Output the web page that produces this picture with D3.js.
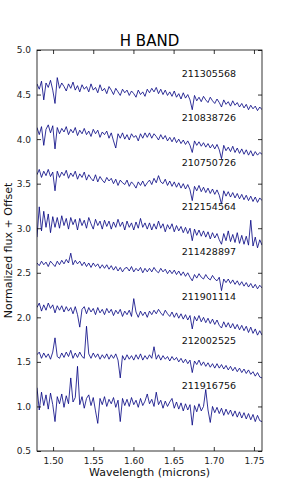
<!DOCTYPE html>
<html><head><meta charset="utf-8">
<script src="https://cdn.jsdelivr.net/npm/d3@7"></script>
<style>body{margin:0;background:#fff}svg{display:block}text{font-family:"DejaVu Sans",sans-serif}</style>
</head><body><svg id="c" width="291" height="501"></svg>
<script>
const wavelength=[1.4800,1.4828,1.4856,1.4884,1.4912,1.4940,1.4968,1.4996,1.5024,1.5052,
1.5080,1.5108,1.5136,1.5164,1.5192,1.5220,1.5248,1.5276,1.5304,1.5332,
1.5360,1.5388,1.5416,1.5444,1.5472,1.5500,1.5528,1.5556,1.5584,1.5612,
1.5640,1.5668,1.5696,1.5724,1.5752,1.5780,1.5808,1.5836,1.5864,1.5892,
1.5920,1.5948,1.5976,1.6004,1.6032,1.6060,1.6088,1.6116,1.6144,1.6172,
1.6200,1.6228,1.6256,1.6284,1.6312,1.6340,1.6368,1.6396,1.6424,1.6452,
1.6480,1.6508,1.6536,1.6564,1.6592,1.6620,1.6648,1.6676,1.6704,1.6732,
1.6760,1.6788,1.6816,1.6844,1.6872,1.6900,1.6928,1.6956,1.6984,1.7012,
1.7040,1.7068,1.7096,1.7124,1.7152,1.7180,1.7208,1.7236,1.7264,1.7292,
1.7320,1.7348,1.7376,1.7404,1.7432,1.7460,1.7488,1.7516,1.7544,1.7572,
1.7600];
const starNames=["211305568","210838726","210750726","212154564","211428897","211901114","212002525","211916756"];
const labelY=[4.7,4.2,3.7,3.2,2.7,2.2,1.7,1.2];
const labelX=1.66;
const s1=[4.62,4.56,4.65,4.44,4.63,4.58,4.66,4.55,4.40,4.69,
4.57,4.63,4.59,4.54,4.62,4.57,4.64,4.55,4.60,4.53,
4.61,4.56,4.59,4.53,4.62,4.55,4.58,4.52,4.61,4.54,
4.57,4.51,4.59,4.55,4.50,4.57,4.53,4.49,4.56,4.52,
4.55,4.49,4.54,4.51,4.47,4.55,4.50,4.53,4.48,4.56,
4.52,4.57,4.53,4.58,4.51,4.56,4.50,4.55,4.49,4.53,
4.48,4.54,4.47,4.51,4.45,4.52,4.46,4.50,4.44,4.33,
4.49,4.43,4.47,4.42,4.48,4.44,4.41,4.47,4.43,4.40,
4.45,4.41,4.36,4.44,4.39,4.42,4.37,4.43,4.38,4.41,
4.36,4.40,4.35,4.39,4.33,4.38,4.34,4.37,4.32,4.36,
4.33];
const s2=[4.13,4.05,4.14,3.93,4.11,4.16,4.07,4.15,3.89,4.13,
4.06,4.12,4.08,4.14,4.05,4.11,4.07,4.13,4.04,4.10,
4.06,4.12,4.05,4.09,4.03,4.11,4.06,4.10,4.02,4.08,
4.05,4.09,4.01,4.07,3.98,3.90,4.06,4.01,4.07,4.00,
4.05,3.99,4.06,4.02,4.04,3.98,4.06,4.01,4.07,4.02,
4.07,4.01,4.06,4.03,3.99,4.05,4.00,4.04,3.98,4.02,
3.97,4.02,3.96,4.00,3.95,3.99,3.94,3.98,3.93,3.85,
3.98,3.93,3.97,3.92,3.96,3.91,3.95,3.90,3.94,3.89,
3.94,3.88,3.78,3.93,3.87,3.91,3.86,3.92,3.85,3.90,
3.84,3.89,3.83,3.88,3.82,3.87,3.81,3.86,3.82,3.85,
3.83];
const s3=[3.60,3.66,3.57,3.64,3.59,3.66,3.58,3.63,3.42,3.64,
3.57,3.63,3.59,3.65,3.56,3.62,3.58,3.64,3.55,3.61,
3.57,3.63,3.54,3.60,3.56,3.53,3.60,3.52,3.58,3.54,
3.51,3.57,3.53,3.56,3.50,3.55,3.48,3.54,3.51,3.49,
3.54,3.47,3.52,3.49,3.45,3.52,3.48,3.53,3.47,3.51,
3.54,3.49,3.56,3.51,3.59,3.52,3.50,3.55,3.48,3.53,
3.47,3.52,3.46,3.51,3.45,3.50,3.44,3.49,3.43,3.31,
3.47,3.42,3.48,3.41,3.46,3.40,3.45,3.39,3.44,3.38,
3.43,3.37,3.27,3.42,3.36,3.41,3.35,3.40,3.34,3.39,
3.33,3.38,3.32,3.37,3.31,3.36,3.30,3.35,3.29,3.34,
3.31];
const s4=[2.90,3.24,2.97,3.19,3.01,3.16,2.95,3.13,3.01,3.12,
3.00,3.14,3.03,3.11,2.99,3.12,3.04,3.10,2.98,3.11,
3.03,3.09,3.00,3.12,3.05,2.99,3.10,3.03,3.08,2.99,
3.09,3.02,3.08,2.99,3.07,3.01,3.10,3.02,3.07,2.98,
3.08,3.01,3.06,2.98,3.07,3.00,3.11,3.01,3.06,2.99,
3.06,2.98,3.05,2.99,3.08,3.00,3.05,2.96,3.04,2.99,
3.05,2.96,3.03,2.97,3.02,2.95,3.01,2.94,3.00,2.86,
2.99,2.92,2.98,2.91,2.97,2.90,2.96,2.88,2.95,2.89,
2.94,2.87,2.82,2.94,2.86,2.97,2.85,2.93,2.84,2.95,
2.83,2.92,2.82,2.91,2.81,3.09,2.80,2.90,2.78,2.87,
2.81];
const s5=[2.61,2.58,2.63,2.59,2.62,2.57,2.63,2.60,2.57,2.63,
2.59,2.64,2.60,2.65,2.61,2.72,2.59,2.64,2.60,2.63,
2.58,2.62,2.57,2.61,2.56,2.61,2.57,2.60,2.55,2.59,
2.55,2.59,2.54,2.58,2.53,2.57,2.52,2.56,2.51,2.55,
2.56,2.52,2.57,2.51,2.55,2.52,2.56,2.50,2.55,2.51,
2.55,2.51,2.56,2.52,2.50,2.55,2.51,2.54,2.49,2.53,
2.49,2.53,2.48,2.52,2.47,2.51,2.46,2.50,2.45,2.41,
2.48,2.44,2.49,2.45,2.43,2.48,2.44,2.42,2.47,2.43,
2.41,2.45,2.30,2.43,2.39,2.43,2.38,2.42,2.37,2.41,
2.36,2.40,2.35,2.39,2.34,2.38,2.33,2.37,2.32,2.36,
2.33];
const s6=[2.11,2.16,2.07,2.14,2.08,2.16,2.10,2.14,2.05,2.13,
2.08,2.13,2.06,2.12,2.07,2.11,2.04,2.12,2.03,1.89,
2.09,2.12,2.04,2.11,2.06,2.10,2.03,2.11,2.05,2.09,
2.03,2.10,2.05,2.09,2.02,2.08,2.04,2.09,2.01,2.07,
2.03,2.08,2.01,2.21,2.06,2.00,2.07,2.02,2.06,2.00,
2.07,2.03,2.08,2.04,2.09,2.05,2.02,2.08,2.04,2.01,
2.06,2.00,2.05,1.99,2.04,1.98,2.03,1.97,2.02,1.87,
2.01,1.96,2.02,1.95,2.00,1.94,1.99,1.93,1.98,1.92,
1.97,1.91,1.88,1.95,1.89,1.94,1.88,1.93,1.87,1.92,
1.86,1.91,1.85,1.90,1.83,1.89,1.82,1.87,1.80,1.85,
1.80];
const s7=[1.58,1.61,1.54,1.60,1.55,1.59,1.53,1.61,1.77,1.56,
1.54,1.60,1.55,1.61,1.56,1.63,1.54,1.60,1.55,1.61,
1.56,1.54,1.90,1.59,1.54,1.60,1.55,1.59,1.53,1.58,
1.54,1.59,1.53,1.58,1.54,1.59,1.52,1.32,1.57,1.52,
1.58,1.53,1.57,1.52,1.58,1.53,1.59,1.52,1.57,1.53,
1.58,1.54,1.67,1.53,1.58,1.52,1.57,1.53,1.56,1.51,
1.56,1.52,1.55,1.50,1.54,1.49,1.53,1.48,1.52,1.38,
1.51,1.47,1.52,1.46,1.50,1.45,1.49,1.44,1.48,1.43,
1.48,1.43,1.47,1.42,1.46,1.41,1.45,1.40,1.44,1.39,
1.43,1.38,1.42,1.37,1.41,1.36,1.39,1.34,1.38,1.33,
1.32];
const s8=[1.21,0.96,1.16,1.01,1.13,0.97,1.15,1.02,0.83,1.11,
1.03,1.14,0.99,1.12,1.03,1.32,1.05,1.10,1.45,1.02,
1.11,0.98,1.09,1.13,1.01,1.10,0.95,0.81,1.09,1.02,
1.11,1.00,1.08,1.03,1.10,0.99,1.07,0.83,1.09,1.01,
1.08,1.00,1.10,1.02,1.07,0.99,1.09,1.01,1.06,1.14,
1.03,1.08,1.00,1.16,1.02,1.07,0.98,1.06,1.00,1.05,
1.09,0.98,1.05,0.97,1.04,0.95,1.03,0.96,1.02,0.79,
1.01,0.94,1.03,0.95,1.00,1.19,0.96,0.82,1.00,0.93,
0.99,0.92,0.98,0.90,0.97,0.91,0.96,0.89,0.95,0.88,
0.94,0.87,0.93,0.86,0.92,0.85,0.91,0.83,0.90,0.84,
0.83];
const series=[s1,s2,s3,s4,s5,s6,s7,s8];
const xTicks=[1.50,1.55,1.60,1.65,1.70,1.75];
const yTicks=[0.5,1.0,1.5,2.0,2.5,3.0,3.5,4.0,4.5,5.0];

const svg=d3.select("#c");
const L=37,R=262,T=50,B=451;
const x=d3.scaleLinear().domain([1.48,1.76]).range([L,R]);
const y=d3.scaleLinear().domain([0.5,5.0]).range([B,T]);

svg.append("defs").append("clipPath").attr("id","pc").append("rect")
 .attr("x",L).attr("y",T).attr("width",R-L).attr("height",B-T);
const g=svg.append("g").attr("clip-path","url(#pc)");
const line=d3.line().x((d,i)=>x(wavelength[i])).y(d=>y(d));
series.forEach(s=>{
 g.append("path").attr("d",line(s)).attr("fill","none").attr("stroke","#000080").attr("stroke-width",0.8).attr("stroke-linejoin","round");
});

const fmt2=d3.format(".2f"), fmt1=d3.format(".1f");
function styleAxis(sel){sel.select(".domain").remove();sel.selectAll("line").attr("stroke","#000").attr("stroke-width",0.8);
 sel.selectAll("text").attr("fill","#222").style("font-size","9px").style("font-family","DejaVu Sans");}
svg.append("g").attr("transform",`translate(0,${B})`).call(d3.axisBottom(x).tickValues(xTicks).tickFormat(fmt2).tickSizeInner(-4).tickPadding(7)).call(styleAxis);
svg.append("g").attr("transform",`translate(0,${T})`).call(d3.axisTop(x).tickValues(xTicks).tickFormat("").tickSizeInner(-4)).call(styleAxis);
svg.append("g").attr("transform",`translate(${L},0)`).call(d3.axisLeft(y).tickValues(yTicks).tickFormat(fmt1).tickSizeInner(-4).tickPadding(6)).call(styleAxis);
svg.append("g").attr("transform",`translate(${R},0)`).call(d3.axisRight(y).tickValues(yTicks).tickFormat("").tickSizeInner(-4)).call(styleAxis);
svg.append("rect").attr("x",L).attr("y",T).attr("width",R-L).attr("height",B-T).attr("fill","none").attr("stroke","#000").attr("stroke-width",0.8);

svg.selectAll("text.star").data(starNames).enter().append("text").attr("class","star")
 .attr("x",x(labelX)).attr("y",(d,i)=>y(labelY[i])).text(d=>d).attr("fill","#111").style("font-size","9.5px");
svg.append("text").attr("x",(L+R)/2).attr("y",46).attr("text-anchor","middle").style("font-size","15px").attr("fill","#000").text("H BAND");
svg.append("text").attr("x",(L+R)/2).attr("y",476).attr("text-anchor","middle").style("font-size","11px").attr("fill","#111").text("Wavelength (microns)");
svg.append("text").attr("transform",`translate(12,${(T+B)/2}) rotate(-90)`).attr("text-anchor","middle").style("font-size","11px").attr("fill","#111").text("Normalized flux + Offset");
</script></body></html>
